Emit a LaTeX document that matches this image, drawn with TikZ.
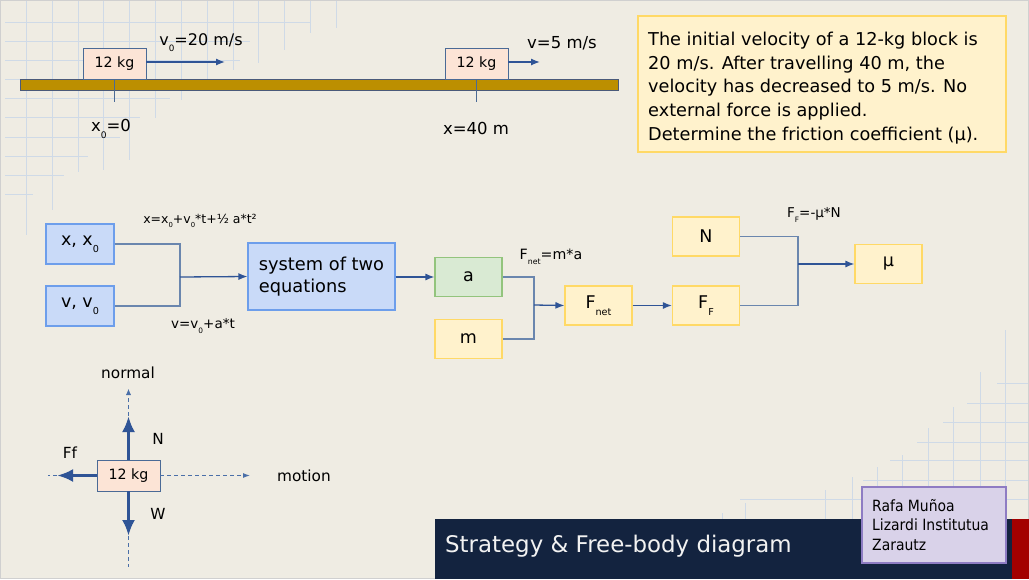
\documentclass[tikz,border=0pt]{standalone}
\usepackage{fontspec}
\usepackage{graphicx}
\setmainfont{DejaVu Sans}
\newfontfamily\condfont{DejaVu Sans Condensed}
\usetikzlibrary{arrows.meta}
\definecolor{bg}{HTML}{EFECE3}
\definecolor{gridc}{HTML}{CFDAE7}
\definecolor{arrc}{HTML}{2F5496}
\definecolor{connc}{HTML}{6A86AE}
\definecolor{bluebd}{HTML}{6D9EEB}
\definecolor{bluefl}{HTML}{C9DAF8}
\definecolor{yelbd}{HTML}{FFD966}
\definecolor{yelfl}{HTML}{FFF2CC}
\definecolor{grnbd}{HTML}{93C47D}
\definecolor{grnfl}{HTML}{D9EAD3}
\definecolor{blkbd}{HTML}{4A6A96}
\definecolor{blkfl}{HTML}{FCE4D6}
\definecolor{dshc}{HTML}{4A6FA8}
\definecolor{framec}{HTML}{D0D0D0}
\definecolor{groundbd}{HTML}{4A5A7A}
\definecolor{groundfl}{HTML}{BC8F00}
\definecolor{navy}{HTML}{13233F}
\definecolor{redbar}{HTML}{A30000}
\definecolor{titletx}{HTML}{F2F2F2}
\definecolor{authbd}{HTML}{8E7CC3}
\definecolor{authfl}{HTML}{D9D2E9}
\newcommand{\lowsub}[1]{\raisebox{-0.38em}{\scalebox{0.55}{#1}}}
\newcommand{\fs}[1]{\fontsize{#1}{#1}\selectfont}
\tikzset{
  bluebox/.style={draw=bluebd, fill=bluefl, line width=1.1pt, minimum width=68pt, minimum height=40pt, font=\fs{17.5}},
  yelbox/.style={draw=yelbd, fill=yelfl, line width=1.1pt, minimum width=67pt, minimum height=39pt, font=\fs{17.5}},
  grnbox/.style={draw=grnbd, fill=grnfl, line width=1.1pt, minimum width=67pt, minimum height=39pt, font=\fs{17.5}},
  blk/.style={draw=blkbd, fill=blkfl, line width=0.9pt, minimum width=63pt, minimum height=31pt, font=\fs{14.2}},
  conn/.style={draw=connc, line width=1.3pt},
  arr/.style={draw=arrc, line width=1.3pt, -{Latex[length=9pt,width=7pt]}},
  bigarr/.style={draw=arrc, line width=3.5pt, -{Latex[length=16pt,width=13pt]}},
  dsh/.style={draw=dshc, line width=1pt, dash pattern=on 4pt off 3pt},
  lbl/.style={font=\fs{15.3}, text=black},
  eq/.style={font=\fs{13.5}, text=black},
  gl/.style={draw=gridc, line width=0.8pt},
}
\begin{document}
\begin{tikzpicture}[x=1pt,y=-1pt]
\useasboundingbox (0,0) rectangle (1029,579);
\fill[bg] (0,0) rectangle (1029,579);
% background grids
\foreach \x/\l in {26/235,52/210,78/172,103/170,129/160,155/118,181/100,207/90,233/70,258/63,284/50,310/33,336/28}
  \draw[gl] (\x,0) -- (\x,\l);
\foreach \y/\l in {22/310,41/250,60/240,79/210,98/170,117/140,137/120,156/88,175/64,194/33}
  \draw[gl] (5,\y) -- (\l,\y);
\foreach \x/\t in {722/513,745/503,825/490,852/477,877/467,902/455,928/428,953/407,980/372,1005/330}
  \draw[gl] (\x,\t) -- (\x,579);
\foreach \y/\l in {383/997,403/967,422/943,442/917,460/890,480/863,499/740}
  \draw[gl] (\l,\y) -- (1029,\y);
\draw[draw=framec, line width=1pt] (0.5,0.5) rectangle (1028.5,578.5);

% top scene
\node[draw=groundbd, fill=groundfl, line width=0.8pt, minimum width=598pt, minimum height=11pt, inner sep=0pt] (ground) at (319,84.5) {};
\node[blk] (b1) at (114.5,63.5) {12 kg};
\node[blk] (b2) at (476.5,63.5) {12 kg};
\coordinate (v1) at (225,62);
\coordinate (v2) at (540,62);
\draw[arr] (b1.east |- v1) -- (v1);
\draw[arr] (b2.east |- v2) -- (v2);
\coordinate (t1) at (114.5,102);
\coordinate (t2) at (476.5,102);
\draw[draw=blkbd, line width=1pt] (b1.south) -- (t1);
\draw[draw=blkbd, line width=1pt] (b2.south) -- (t2);
\node[font=\fs{16}] (lv0) at (201,43) {v\lowsub{0}=20 m/s};
\node[font=\fs{16.5}] (lv) at (562,43) {v=5 m/s};
\node[font=\fs{16.5}] (lx0) at (111,129) {x\lowsub{0}=0};
\node[font=\fs{16.5}] (lx) at (476,128) {x=40 m};

% problem box
\node[draw=yelbd, fill=yelfl, line width=1.3pt, minimum width=368pt, minimum height=136pt] (prob) at (822,84) {};
\node[anchor=north west, align=left, font=\fontsize{17.7}{23.6}\selectfont, inner sep=0pt] (ptext) at (648,32)
 {The initial velocity of a 12-kg block is\\20 m/s. After travelling 40 m, the\\velocity has decreased to 5 m/s. No\\external force is applied.\\Determine the friction coefficient (μ).};

% flowchart
\node[bluebox] (xx) at (80,244) {x, x\lowsub{0}};
\node[bluebox] (vv) at (80,306) {v, v\lowsub{0}};
\node[bluebox, minimum width=147pt, minimum height=67pt, align=left, font=\fontsize{17.8}{21.5}\selectfont] (sys) at (321.5,276.5) {system of two\\equations};
\coordinate (j1) at (180,277);
\draw[conn] (xx.east) -| (j1) |- (vv.east);
\draw[arr] (j1) -- (sys.west);
\node[eq, font=\fs{12.5}] (eqx) at (200,221) {x=x\lowsub{0}+v\lowsub{0}*t+½ a*t²};
\node[eq] (eqv) at (203,326) {v=v\lowsub{0}+a*t};

\node[grnbox] (a) at (468.5,277) {a};
\node[yelbox] (m) at (468.5,339) {m};
\draw[arr] (sys.east |- a) -- (a.west);
\coordinate (j2) at (534,305);
\draw[conn] (a.east) -| (j2) |- (m.east);
\node[yelbox] (fnet) at (598.5,305.5) {F\lowsub{net}};
\draw[arr] (j2) -- (fnet.west);
\node[eq, font=\fs{14.2}] (eqf) at (551,257) {F\lowsub{net}=m*a};

\node[yelbox] (ff) at (706,305.5) {F\lowsub{F}};
\node[yelbox] (nn) at (706,236.5) {N};
\draw[arr] (fnet.east) -- (ff.west);
\coordinate (j3) at (798,264);
\draw[conn] (nn.east) -| (j3) |- (ff.east);
\node[yelbox] (mu) at (888.5,264) {μ};
\draw[arr] (j3) -- (mu.west);
\node[eq] (eqn) at (814,215) {F\lowsub{F}=-μ*N};

% free body diagram
\node[blk] (fb) at (128.5,475.5) {12 kg};
\coordinate (nt) at (128.5,416);
\coordinate (nd) at (128.5,389);
\coordinate (wt) at (128.5,536);
\coordinate (wd) at (128.5,567);
\coordinate (ft) at (57,475.5);
\coordinate (fd) at (48,475.5);
\coordinate (mt) at (250,475.5);
\draw[dsh] (nt) -- (nd);
\draw[draw=dshc, -{Latex[length=6pt,width=5pt]}] (128.5,394) -- (nd);
\draw[dsh] (wt) -- (wd);
\draw[dsh] (ft) -- (fd);
\draw[dsh, -{Latex[length=7pt,width=5pt]}] (fb.east) -- (mt);
\draw[bigarr] (fb.north) -- (nt);
\draw[bigarr] (fb.south) -- (wt);
\draw[bigarr] (fb.west) -- (ft);
\node[lbl] (lnormal) at (128,373) {normal};
\node[lbl] (ln) at (158,439) {N};
\node[lbl] (lw) at (158,514) {W};
\node[lbl] (lff) at (70,453) {Ff};
\node[lbl] (lmot) at (304,476) {motion};

% title bar
\fill[fill=navy] (435,519) rectangle (1012,579);
\fill[fill=redbar] (1012,519) rectangle (1029,579);
\node[anchor=west, text=titletx, font=\fs{22.9}, inner sep=0pt] (title) at (445,546) {Strategy \& Free-body diagram};
\node[draw=authbd, fill=authfl, line width=1.1pt, minimum width=144pt, minimum height=76pt] (auth) at (934,525) {};
\node[anchor=north west, align=left, inner sep=0pt, font=\condfont\fontsize{15.5}{19.5}\selectfont] (atext) at (872,499) {Rafa Muñoa\\Lizardi Institutua\\Zarautz};
\end{tikzpicture}
\end{document}
